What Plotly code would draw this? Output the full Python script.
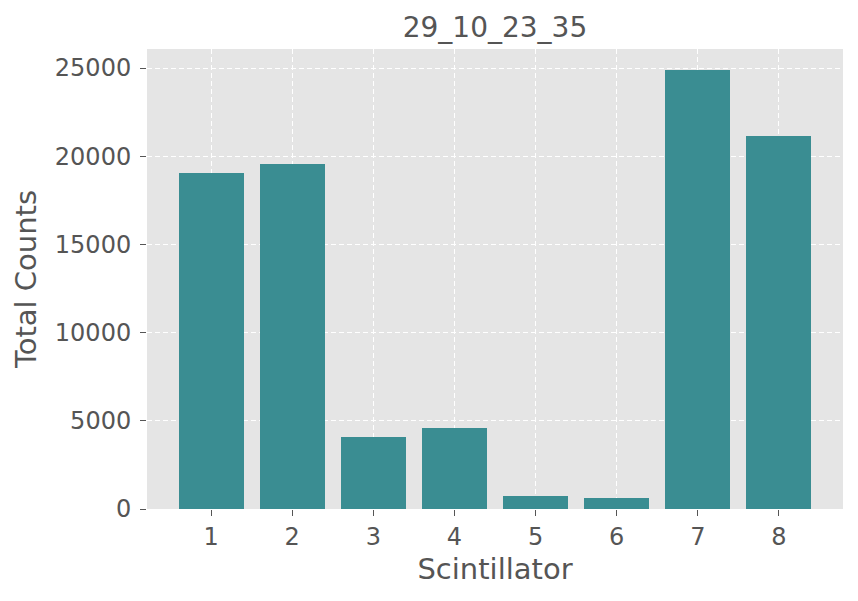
import plotly.graph_objects as go

scintillators = [1, 2, 3, 4, 5, 6, 7, 8]
total_counts = [19050, 19560, 4080, 4590, 740, 630, 24890, 21150]
y_ticks = [0, 5000, 10000, 15000, 20000, 25000]
title_text = "29_10_23_35"

TEXT = "#555555"
FONT = "DejaVu Sans"

fig = go.Figure(go.Bar(
    x=scintillators, y=total_counts, width=0.8,
    marker=dict(color="#3a8d92", line=dict(width=0)),
))

fig.update_layout(
    width=858, height=601,
    margin=dict(l=147, r=15, t=49, b=92),
    paper_bgcolor="white", plot_bgcolor="#E5E5E5",
    font=dict(family=FONT, color=TEXT, size=24),
    title=dict(text=title_text, x=0.5, xref="paper", xanchor="center",
               y=1 - 27 / 601, yref="container", yanchor="middle",
               font=dict(size=28, color=TEXT, family=FONT)),
    showlegend=False,
    bargap=0,
)
fig.update_xaxes(
    range=[0.21, 8.79], tickvals=scintillators, ticktext=[str(s) for s in scintillators],
    ticks="outside", ticklen=6, tickwidth=1.3, tickcolor=TEXT,
    showgrid=True, gridcolor="white", gridwidth=1.3, griddash="5px,3px",
    zeroline=False, showline=False, automargin=False,
    tickfont=dict(size=24, color=TEXT, family=FONT),
    title=dict(text="Scintillator", font=dict(size=29, color=TEXT, family=FONT), standoff=8),
)
fig.update_yaxes(
    range=[0, 26077], tickvals=y_ticks, ticktext=[str(v) for v in y_ticks],
    ticks="outside", ticklen=6, tickwidth=1.3, tickcolor=TEXT,
    showgrid=True, gridcolor="white", gridwidth=1.3, griddash="5px,3px",
    zeroline=False, showline=False, automargin=False,
    tickfont=dict(size=24, color=TEXT, family=FONT),
    ticklabelstandoff=4,
    title=dict(text="Total Counts", font=dict(size=29, color=TEXT, family=FONT), standoff=9),
)

fig.write_html("out.html", config={"displayModeBar": False},
               post_script="document.body.style.margin='0';document.body.style.overflow='hidden';")
